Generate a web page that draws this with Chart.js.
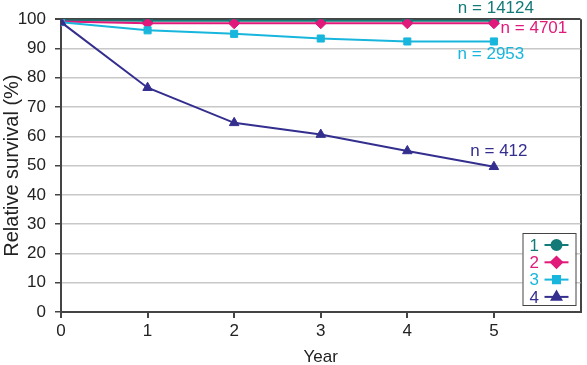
<!DOCTYPE html>
<html>
<head>
<meta charset="utf-8">
<script src="https://cdn.jsdelivr.net/npm/chart.js@4"></script>
<style>
  html, body { margin: 0; padding: 0; background: #fff; }
  #wrap { width: 587px; height: 365px; }
</style>
</head>
<body>
<div id="wrap"><canvas id="survivalChart"></canvas></div>
<script>
// data
const years = [0, 1, 2, 3, 4, 5];
const group1 = [99.6, 99.5, 99.5, 99.5, 99.5, 99.5];
const group2 = [99.2, 98.6, 98.6, 98.6, 98.6, 98.6];
const group3 = [99.0, 96.2, 95.0, 93.4, 92.4, 92.4];
const group4 = [99.0, 76.6, 64.6, 60.6, 55.0, 49.6];
const groupNames = ['1', '2', '3', '4'];
const groupCounts = ['n = 14124', 'n = 4701', 'n = 2953', 'n = 412'];
const yTicks = [0, 10, 20, 30, 40, 50, 60, 70, 80, 90, 100];

const colors = ['#137a78', '#e0197a', '#18b6dc', '#342f8f'];
const markers = ['circle', 'rectRot', 'rect', 'triangle'];
const radii = [5, 5.5, 5, 5.5];
const FONT = 'Liberation Sans, Arial, sans-serif';

function toPoints(vals) {
    return vals.map((v, i) => ({ x: years[i], y: v }));
}

const seriesList = [group1, group2, group3, group4];
const datasets = seriesList.map((vals, i) => ({
    label: groupNames[i],
    data: toPoints(vals),
    borderColor: colors[i],
    backgroundColor: colors[i],
    borderWidth: 2,
    pointStyle: markers[i],
    pointRadius: radii[i],
    pointBorderWidth: 1,
    tension: 0,
    order: 4 - i
}));

// n = ... labels next to the last point of each series
const countLabels = {
    id: 'countLabels',
    afterDatasetsDraw(chart) {
        const ctx = chart.ctx;
        const xs = chart.scales.x, ys = chart.scales.y;
        const offs = [[2, -12], [40, 5], [-3, 13], [5, -15]];
        ctx.save();
        ctx.font = '17px ' + FONT;
        ctx.textBaseline = 'middle';
        ctx.textAlign = 'center';
        seriesList.forEach((vals, i) => {
            const last = vals.length - 1;
            const px = xs.getPixelForValue(years[last]) + offs[i][0];
            const py = ys.getPixelForValue(vals[last]) + offs[i][1];
            ctx.fillStyle = colors[i];
            ctx.fillText(groupCounts[i], px, py);
        });
        ctx.restore();
    }
};

// boxed legend with line+marker glyphs, lower right of plot
const boxLegend = {
    id: 'boxLegend',
    afterDraw(chart) {
        const ctx = chart.ctx;
        const area = chart.chartArea;
        const w = 53, h = 72;
        const x0 = area.right - w - 5, y0 = area.bottom - h - 7;
        ctx.save();
        ctx.fillStyle = '#fff';
        ctx.fillRect(x0, y0, w, h);
        ctx.strokeStyle = '#444';
        ctx.lineWidth = 1;
        ctx.strokeRect(x0 + 0.5, y0 + 0.5, w, h);
        ctx.font = '17px ' + FONT;
        ctx.textBaseline = 'middle';
        ctx.textAlign = 'left';
        groupNames.forEach((name, i) => {
            const cy = y0 + 12 + i * 17.3;
            ctx.fillStyle = colors[i];
            ctx.fillText(name, x0 + 7, cy + 1);
            ctx.strokeStyle = colors[i];
            ctx.lineWidth = 2;
            ctx.beginPath();
            ctx.moveTo(x0 + 22, cy);
            ctx.lineTo(x0 + 46, cy);
            ctx.stroke();
            Chart.helpers.drawPoint(ctx, { pointStyle: markers[i], radius: radii[i], borderWidth: 1 }, x0 + 34, cy);
            ctx.fill();
        });
        ctx.restore();
    }
};

new Chart(document.getElementById('survivalChart'), {
    type: 'line',
    data: { datasets: datasets },
    plugins: [countLabels, boxLegend],
    options: {
        responsive: true,
        maintainAspectRatio: false,
        animation: false,
        layout: { padding: { top: 17, right: 2, left: 0, bottom: 0 } },
        plugins: {
            legend: { display: false },
            tooltip: { enabled: false }
        },
        scales: {
            x: {
                type: 'linear',
                min: 0,
                max: 6,
                afterFit(scale) { scale.height = 53; },
                ticks: {
                    stepSize: 1,
                    color: '#222',
                    font: { family: FONT, size: 17 },
                    padding: 3,
                    callback: v => (v <= 5 ? v : '')
                },
                grid: {
                    drawOnChartArea: true,
                    color: c => (c.tick && c.tick.value === 6 ? '#444' : 'rgba(0,0,0,0)'),
                    tickColor: c => (c.tick && c.tick.value === 6 ? 'rgba(0,0,0,0)' : '#444'),
                    tickLength: 6,
                    lineWidth: 2
                },
                border: { color: '#444', width: 2 },
                title: {
                    display: true,
                    text: 'Year',
                    color: '#222',
                    font: { family: FONT, size: 17 },
                    padding: { top: 0, bottom: -3 }
                }
            },
            y: {
                min: 0,
                max: 100,
                afterFit(scale) { scale.width = 61; },
                afterBuildTicks(scale) { scale.ticks = yTicks.map(v => ({ value: v })); },
                ticks: {
                    color: '#222',
                    font: { family: FONT, size: 17 },
                    padding: 9
                },
                grid: {
                    color: c => (c.tick && c.tick.value === 100 ? '#444' : '#c8c8c8'),
                    lineWidth: c => (c.tick && c.tick.value === 100 ? 2 : 1.5),
                    tickColor: '#444',
                    tickLength: 6
                },
                border: { color: '#444', width: 2 },
                title: {
                    display: true,
                    text: 'Relative survival (%)',
                    color: '#222',
                    font: { family: FONT, size: 20 },
                    padding: { top: 0, bottom: 0 }
                }
            }
        }
    }
});
</script>
</body>
</html>
